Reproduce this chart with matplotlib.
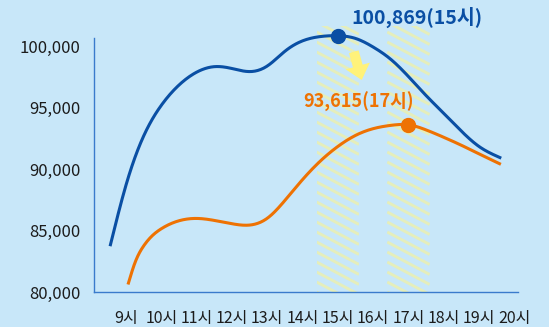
import matplotlib
matplotlib.use("Agg")
import matplotlib.pyplot as plt
import numpy as np
from matplotlib.patches import Rectangle, Polygon

plt.rcParams['font.family'] = ['Noto Sans CJK KR', 'DejaVu Sans']

# hourly traffic (read every half hour along each curve)
blue_hours = [8.56, 9.0, 9.5, 10.0, 10.5, 11.0, 11.5, 12.0, 12.5, 13.0, 13.5, 14.0,
              14.5, 15.0, 15.5, 16.0, 16.5, 17.0, 17.5, 18.0, 18.5, 19.0, 19.59]
blue_values = [83850, 88700, 92700, 95200, 96850, 97900, 98350, 98200, 97950, 98400, 99600, 100450,
               100800, 100869, 100650, 99950, 98950, 97550, 96000, 94550, 93100, 91850, 90950]
orange_hours = [9.07, 9.25, 9.5, 9.75, 10.0, 10.5, 11.0, 11.5, 12.0, 12.5, 13.0, 13.5, 14.0,
                14.5, 15.0, 15.5, 16.0, 16.5, 17.0, 17.5, 18.0, 18.5, 19.0, 19.58]
orange_values = [80730, 82350, 83750, 84600, 85150, 85800, 85990, 85830, 85560, 85450, 86000, 87450,
                 89150, 90650, 91850, 92750, 93300, 93570, 93615, 93200, 92600, 91950, 91250, 90450]

blue_peak = (15, 100869)
orange_peak = (17, 93615)
band_hours = [15, 17]

tick_hours = list(range(9, 21))
tick_labels = [f"{h}시" for h in tick_hours]
y_ticks = [80000, 85000, 90000, 95000, 100000]

BG = "#c8e7f9"
BLUE = "#0a4fa4"
ORANGE = "#ee7203"
HATCH = "#e5eebb"


def smooth(x, y, n=400):
    # natural cubic spline through the points, for a rounded line
    x = np.asarray(x, float)
    y = np.asarray(y, float)
    m = len(x)
    h = np.diff(x)
    A = np.zeros((m, m))
    r = np.zeros(m)
    A[0, 0] = A[-1, -1] = 1
    for i in range(1, m - 1):
        A[i, i - 1] = h[i - 1]
        A[i, i] = 2 * (h[i - 1] + h[i])
        A[i, i + 1] = h[i]
        r[i] = 3 * ((y[i + 1] - y[i]) / h[i] - (y[i] - y[i - 1]) / h[i - 1])
    c = np.linalg.solve(A, r)
    b = (y[1:] - y[:-1]) / h - h * (2 * c[:-1] + c[1:]) / 3
    d = (c[1:] - c[:-1]) / (3 * h)
    xs = np.linspace(x[0], x[-1], n)
    idx = np.clip(np.searchsorted(x, xs) - 1, 0, m - 2)
    t = xs - x[idx]
    ys = y[idx] + b[idx] * t + c[idx] * t ** 2 + d[idx] * t ** 3
    return xs, ys


fig = plt.figure(figsize=(5.49, 3.27), dpi=100, facecolor=BG)
ax = fig.add_axes([93.5 / 549, 35 / 327, 424 / 549, 272 / 327])
ax.set_facecolor(BG)
ax.set_xlim(8.08, 20.09)
ax.set_ylim(80000, 102150)

# hatched highlight bands
px_per_h = 424 / (20.09 - 8.08)
px_per_v = 272 / (102150 - 80000)
band_top = 101660
for h in band_hours:
    x0, x1 = h - 0.6, h + 0.6
    rect = Rectangle((x0, 80000), x1 - x0, band_top - 80000, facecolor="none", edgecolor="none")
    ax.add_patch(rect)
    slope = -0.53 * px_per_h / px_per_v
    step = 10 / px_per_v
    for k in range(-5, 40):
        y0 = 80000 + k * step
        ln, = ax.plot([x0, x1], [y0, y0 + slope * (x1 - x0)], color=HATCH, lw=2.1,
                      solid_capstyle="butt", zorder=1)
        ln.set_clip_path(rect)

bx, by = smooth(blue_hours, blue_values)
ox, oy = smooth(orange_hours, orange_values)
ax.plot(bx, by, color=BLUE, lw=2.2, zorder=3, clip_on=False)
ax.plot(ox, oy, color=ORANGE, lw=2.2, zorder=3, clip_on=False)
ax.plot(*blue_peak, "o", color=BLUE, ms=10, zorder=4, clip_on=False)
ax.plot(*orange_peak, "o", color=ORANGE, ms=10, zorder=4, clip_on=False)

ax.annotate(f"{blue_peak[1]:,}({blue_peak[0]}시)", xy=blue_peak, xytext=(14, 18),
            textcoords="offset pixels", ha="left", va="center", color=BLUE,
            fontsize=14, fontweight="bold")
ax.annotate(f"{orange_peak[1]:,}({orange_peak[0]}시)", xy=orange_peak, xytext=(-105, 23),
            textcoords="offset pixels", ha="left", va="center", color=ORANGE,
            fontsize=13, fontweight="bold")

# yellow arrow between the two peaks (figure pixel coordinates)
tail = np.array([353.8, 327 - 51.7])
tip = np.array([361.7, 327 - 80.0])
d = (tip - tail) / np.linalg.norm(tip - tail)
n = np.array([-d[1], d[0]])
base = tip - d * 14.5
pts = [tail + n * 5, base + n * 5, base + n * 12.5, tip,
       base - n * 12.5, base - n * 5, tail - n * 5]
pts = np.array(pts) / 100.0
fig.patches.append(Polygon(pts, closed=True, facecolor="#fff27a", edgecolor="none",
                           transform=fig.dpi_scale_trans, zorder=5))

for s in ["top", "right"]:
    ax.spines[s].set_visible(False)
for s in ["left", "bottom"]:
    ax.spines[s].set_color("#3a7bcc")
    ax.spines[s].set_linewidth(1.0)
ax.spines["left"].set_bounds(80000, 100700)

ax.set_yticks(y_ticks)
ax.set_yticklabels([f"{v:,}" for v in y_ticks])
ax.set_xticks(tick_hours)
ax.set_xticklabels(tick_labels)
ax.tick_params(axis="y", length=0, pad=9.5, labelsize=12, labelcolor="#1c1c1c")
ax.tick_params(axis="x", length=0, pad=13, labelsize=11.5, labelcolor="#1c1c1c")

fig.savefig("out.png", dpi=100, facecolor=BG)
